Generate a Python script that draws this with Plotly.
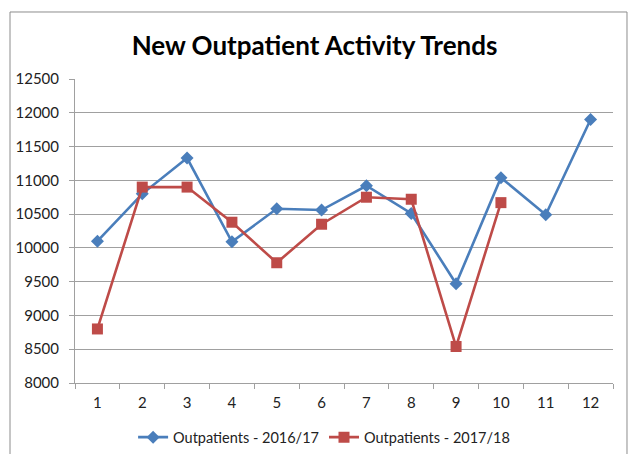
import plotly.graph_objects as go

months = ["1", "2", "3", "4", "5", "6", "7", "8", "9", "10", "11", "12"]
op_2016_17 = [10100, 10800, 11330, 10090, 10580, 10560, 10920, 10510, 9470, 11040, 10490, 11900]
op_2017_18 = [8800, 10900, 10900, 10380, 9780, 10350, 10750, 10720, 8540, 10670]
y_ticks = list(range(8000, 12501, 500))
y_labels = [str(v) for v in y_ticks]

BLUE = "#4A7EBB"
RED = "#BE4B48"
GRID = "#A0A0A0"
FONT = "Lato, 'Open Sans', sans-serif"

fig = go.Figure()
fig.add_trace(go.Scatter(
    x=months, y=op_2016_17, name="Outpatients - 2016/17",
    mode="lines+markers",
    line=dict(color=BLUE, width=2.6),
    marker=dict(symbol="diamond", size=10, color=BLUE),
))
fig.add_trace(go.Scatter(
    x=months[:len(op_2017_18)], y=op_2017_18, name="Outpatients - 2017/18",
    mode="lines+markers",
    line=dict(color=RED, width=2.6),
    marker=dict(symbol="square", size=11, color=RED),
))

fig.update_layout(
    width=629, height=454,
    margin=dict(l=75, r=16, t=79, b=71, autoexpand=False),
    paper_bgcolor="white", plot_bgcolor="white",
    font=dict(family=FONT, size=14, color="#222"),
    title=dict(text="<b>New Outpatient Activity Trends</b>",
               font=dict(family=FONT, size=26, color="#000"),
               x=0.5, xanchor="center", y=0.9, yanchor="middle"),
    showlegend=True,
    legend=dict(orientation="h", x=0.463, xanchor="center",
                yref="container", y=0.037, yanchor="middle",
                font=dict(size=14.5, color="#222"), itemwidth=30, traceorder="normal"),
    xaxis=dict(type="category", tickson="boundaries", ticks="outside", ticklen=5,
               tickcolor=GRID, showline=True, linecolor=GRID, linewidth=1,
               showgrid=False, zeroline=False, range=[-0.5, 11.5],
               tickfont=dict(size=15), ticklabelstandoff=6, automargin=False),
    yaxis=dict(range=[8000, 12500], tickvals=y_ticks, ticktext=y_labels,
               ticks="outside", ticklen=5,
               tickcolor=GRID, showline=True, linecolor=GRID, linewidth=1,
               showgrid=True, gridcolor=GRID, gridwidth=1, zeroline=False,
               ticklabelstandoff=7, tickfont=dict(size=15), automargin=False),
    shapes=[dict(type="rect", xref="paper", yref="paper",
                 x0=-0.1208, x1=1.026, y0=-0.3, y1=1.2204,
                 line=dict(color="#8C8C8C", width=1), layer="below")],
)

fig.write_html("out.html")
